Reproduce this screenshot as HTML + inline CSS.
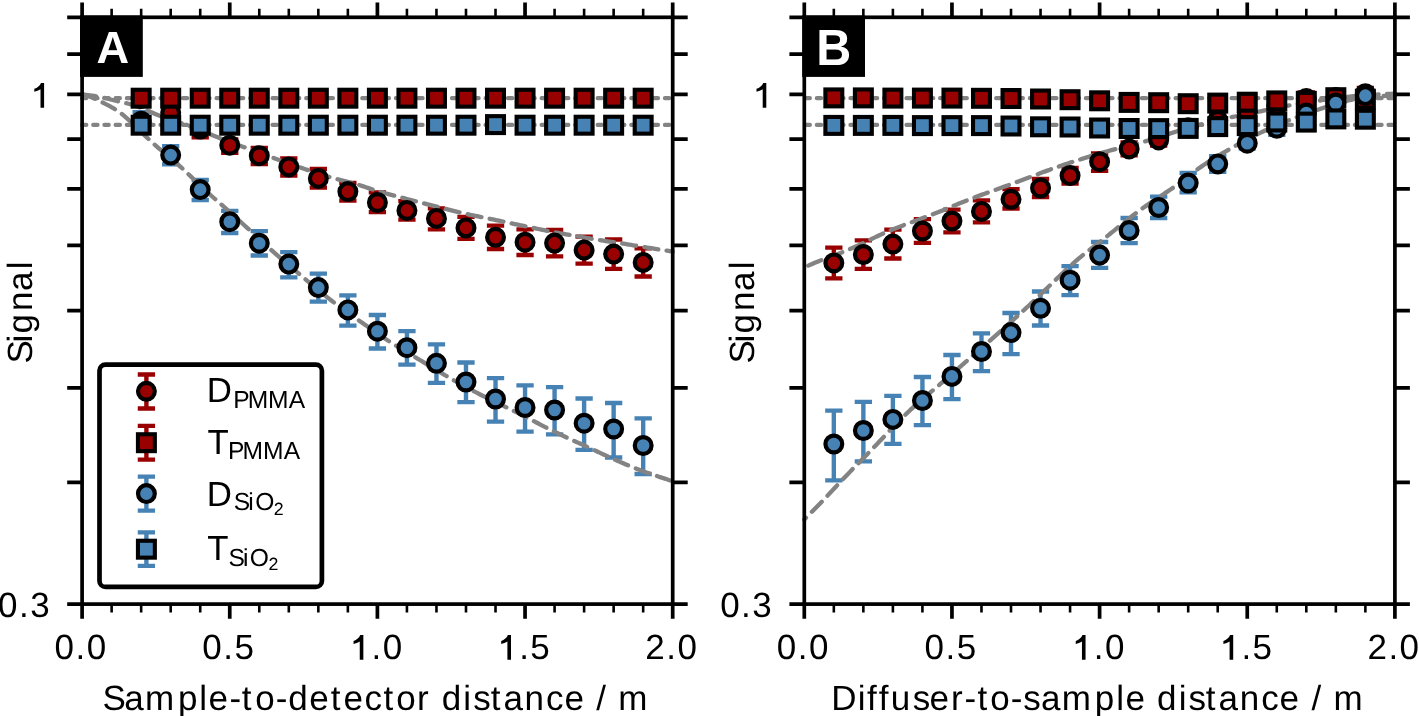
<!DOCTYPE html>
<html><head><meta charset="utf-8"><title>Signal vs distance</title>
<style>html,body{margin:0;padding:0;background:#fff;} svg{display:block;will-change:transform;text-rendering:geometricPrecision;}</style>
</head><body>
<svg width="1419" height="716" viewBox="0 0 1419 716" font-family='"Liberation Sans", sans-serif'>
<rect width="1419" height="716" fill="#fff"/>
<path d="M141.16,93.00V104.00" stroke="#990000" stroke-width="4.4" fill="none"/>
<path d="M132.51,93.00h17.3M132.51,104.00h17.3" stroke="#990000" stroke-width="4.3" fill="none"/>
<path d="M170.69,107.00V119.00" stroke="#990000" stroke-width="4.4" fill="none"/>
<path d="M162.04,107.00h17.3M162.04,119.00h17.3" stroke="#990000" stroke-width="4.3" fill="none"/>
<path d="M200.22,121.00V137.30" stroke="#990000" stroke-width="4.4" fill="none"/>
<path d="M191.57,121.00h17.3M191.57,137.30h17.3" stroke="#990000" stroke-width="4.3" fill="none"/>
<path d="M229.75,139.40V152.80" stroke="#990000" stroke-width="4.4" fill="none"/>
<path d="M221.10,139.40h17.3M221.10,152.80h17.3" stroke="#990000" stroke-width="4.3" fill="none"/>
<path d="M259.28,148.00V164.00" stroke="#990000" stroke-width="4.4" fill="none"/>
<path d="M250.63,148.00h17.3M250.63,164.00h17.3" stroke="#990000" stroke-width="4.3" fill="none"/>
<path d="M288.81,158.30V175.50" stroke="#990000" stroke-width="4.4" fill="none"/>
<path d="M280.16,158.30h17.3M280.16,175.50h17.3" stroke="#990000" stroke-width="4.3" fill="none"/>
<path d="M318.34,169.00V187.70" stroke="#990000" stroke-width="4.4" fill="none"/>
<path d="M309.69,169.00h17.3M309.69,187.70h17.3" stroke="#990000" stroke-width="4.3" fill="none"/>
<path d="M347.87,182.90V200.60" stroke="#990000" stroke-width="4.4" fill="none"/>
<path d="M339.22,182.90h17.3M339.22,200.60h17.3" stroke="#990000" stroke-width="4.3" fill="none"/>
<path d="M377.40,192.30V212.20" stroke="#990000" stroke-width="4.4" fill="none"/>
<path d="M368.75,192.30h17.3M368.75,212.20h17.3" stroke="#990000" stroke-width="4.3" fill="none"/>
<path d="M406.93,201.10V219.70" stroke="#990000" stroke-width="4.4" fill="none"/>
<path d="M398.28,201.10h17.3M398.28,219.70h17.3" stroke="#990000" stroke-width="4.3" fill="none"/>
<path d="M436.46,208.30V229.40" stroke="#990000" stroke-width="4.4" fill="none"/>
<path d="M427.81,208.30h17.3M427.81,229.40h17.3" stroke="#990000" stroke-width="4.3" fill="none"/>
<path d="M465.99,216.90V238.90" stroke="#990000" stroke-width="4.4" fill="none"/>
<path d="M457.34,216.90h17.3M457.34,238.90h17.3" stroke="#990000" stroke-width="4.3" fill="none"/>
<path d="M495.52,225.70V249.00" stroke="#990000" stroke-width="4.4" fill="none"/>
<path d="M486.87,225.70h17.3M486.87,249.00h17.3" stroke="#990000" stroke-width="4.3" fill="none"/>
<path d="M525.05,229.40V255.00" stroke="#990000" stroke-width="4.4" fill="none"/>
<path d="M516.40,229.40h17.3M516.40,255.00h17.3" stroke="#990000" stroke-width="4.3" fill="none"/>
<path d="M554.58,230.00V256.30" stroke="#990000" stroke-width="4.4" fill="none"/>
<path d="M545.93,230.00h17.3M545.93,256.30h17.3" stroke="#990000" stroke-width="4.3" fill="none"/>
<path d="M584.11,236.70V263.70" stroke="#990000" stroke-width="4.4" fill="none"/>
<path d="M575.46,236.70h17.3M575.46,263.70h17.3" stroke="#990000" stroke-width="4.3" fill="none"/>
<path d="M613.64,239.50V268.80" stroke="#990000" stroke-width="4.4" fill="none"/>
<path d="M604.99,239.50h17.3M604.99,268.80h17.3" stroke="#990000" stroke-width="4.3" fill="none"/>
<path d="M643.17,248.30V276.50" stroke="#990000" stroke-width="4.4" fill="none"/>
<path d="M634.52,248.30h17.3M634.52,276.50h17.3" stroke="#990000" stroke-width="4.3" fill="none"/>
<path d="M141.16,112.20V130.50" stroke="#4682b4" stroke-width="4.4" fill="none"/>
<path d="M132.51,112.20h17.3M132.51,130.50h17.3" stroke="#4682b4" stroke-width="4.3" fill="none"/>
<path d="M170.69,146.20V164.40" stroke="#4682b4" stroke-width="4.4" fill="none"/>
<path d="M162.04,146.20h17.3M162.04,164.40h17.3" stroke="#4682b4" stroke-width="4.3" fill="none"/>
<path d="M200.22,180.00V200.00" stroke="#4682b4" stroke-width="4.4" fill="none"/>
<path d="M191.57,180.00h17.3M191.57,200.00h17.3" stroke="#4682b4" stroke-width="4.3" fill="none"/>
<path d="M229.75,210.80V233.00" stroke="#4682b4" stroke-width="4.4" fill="none"/>
<path d="M221.10,210.80h17.3M221.10,233.00h17.3" stroke="#4682b4" stroke-width="4.3" fill="none"/>
<path d="M259.28,231.20V255.50" stroke="#4682b4" stroke-width="4.4" fill="none"/>
<path d="M250.63,231.20h17.3M250.63,255.50h17.3" stroke="#4682b4" stroke-width="4.3" fill="none"/>
<path d="M288.81,252.10V277.30" stroke="#4682b4" stroke-width="4.4" fill="none"/>
<path d="M280.16,252.10h17.3M280.16,277.30h17.3" stroke="#4682b4" stroke-width="4.3" fill="none"/>
<path d="M318.34,273.60V301.60" stroke="#4682b4" stroke-width="4.4" fill="none"/>
<path d="M309.69,273.60h17.3M309.69,301.60h17.3" stroke="#4682b4" stroke-width="4.3" fill="none"/>
<path d="M347.87,295.40V325.60" stroke="#4682b4" stroke-width="4.4" fill="none"/>
<path d="M339.22,295.40h17.3M339.22,325.60h17.3" stroke="#4682b4" stroke-width="4.3" fill="none"/>
<path d="M377.40,315.00V348.50" stroke="#4682b4" stroke-width="4.4" fill="none"/>
<path d="M368.75,315.00h17.3M368.75,348.50h17.3" stroke="#4682b4" stroke-width="4.3" fill="none"/>
<path d="M406.93,331.20V364.70" stroke="#4682b4" stroke-width="4.4" fill="none"/>
<path d="M398.28,331.20h17.3M398.28,364.70h17.3" stroke="#4682b4" stroke-width="4.3" fill="none"/>
<path d="M436.46,344.30V382.80" stroke="#4682b4" stroke-width="4.4" fill="none"/>
<path d="M427.81,344.30h17.3M427.81,382.80h17.3" stroke="#4682b4" stroke-width="4.3" fill="none"/>
<path d="M465.99,362.50V402.10" stroke="#4682b4" stroke-width="4.4" fill="none"/>
<path d="M457.34,362.50h17.3M457.34,402.10h17.3" stroke="#4682b4" stroke-width="4.3" fill="none"/>
<path d="M495.52,378.10V421.70" stroke="#4682b4" stroke-width="4.4" fill="none"/>
<path d="M486.87,378.10h17.3M486.87,421.70h17.3" stroke="#4682b4" stroke-width="4.3" fill="none"/>
<path d="M525.05,385.40V431.70" stroke="#4682b4" stroke-width="4.4" fill="none"/>
<path d="M516.40,385.40h17.3M516.40,431.70h17.3" stroke="#4682b4" stroke-width="4.3" fill="none"/>
<path d="M554.58,387.20V434.40" stroke="#4682b4" stroke-width="4.4" fill="none"/>
<path d="M545.93,387.20h17.3M545.93,434.40h17.3" stroke="#4682b4" stroke-width="4.3" fill="none"/>
<path d="M584.11,398.50V449.80" stroke="#4682b4" stroke-width="4.4" fill="none"/>
<path d="M575.46,398.50h17.3M575.46,449.80h17.3" stroke="#4682b4" stroke-width="4.3" fill="none"/>
<path d="M613.64,403.00V457.50" stroke="#4682b4" stroke-width="4.4" fill="none"/>
<path d="M604.99,403.00h17.3M604.99,457.50h17.3" stroke="#4682b4" stroke-width="4.3" fill="none"/>
<path d="M643.17,418.40V474.00" stroke="#4682b4" stroke-width="4.4" fill="none"/>
<path d="M634.52,418.40h17.3M634.52,474.00h17.3" stroke="#4682b4" stroke-width="4.3" fill="none"/>
<path d="M82.00,98.2 H672.70" stroke="#838383" stroke-width="4.2" stroke-dasharray="4.3 6.91" stroke-linecap="round" fill="none"/>
<path d="M82.00,124.9 H672.70" stroke="#838383" stroke-width="4.2" stroke-dasharray="4.3 6.91" stroke-linecap="round" fill="none"/>
<path d="M82.10,94.38 L84.08,94.62 L86.05,94.85 L88.03,95.10 L90.00,95.36 L91.98,95.63 L93.95,95.92 L95.93,96.24 L97.90,96.58 L99.88,96.96 L101.85,97.37 L103.83,97.81 L105.80,98.27 L107.78,98.76 L109.75,99.26 L111.73,99.76 L113.70,100.26 L115.68,100.76 L117.65,101.24 L119.63,101.71 L121.61,102.15 L123.58,102.58 L125.56,103.02 L127.53,103.50 L129.51,104.02 L131.48,104.59 L133.46,105.21 L135.43,105.86 L137.41,106.55 L139.38,107.27 L141.36,108.03 L143.33,108.82 L145.31,109.63 L147.28,110.47 L149.26,111.32 L151.23,112.19 L153.21,113.05 L155.18,113.91 L157.16,114.75 L159.13,115.56 L161.11,116.34 L163.09,117.09 L165.06,117.81 L167.04,118.51 L169.01,119.18 L170.99,119.84 L172.96,120.49 L174.94,121.13 L176.91,121.77 L178.89,122.42 L180.86,123.07 L182.84,123.74 L184.81,124.42 L186.79,125.11 L188.76,125.82 L190.74,126.54 L192.71,127.27 L194.69,128.01 L196.66,128.76 L198.64,129.53 L200.62,130.30 L202.59,131.09 L204.57,131.88 L206.54,132.69 L208.52,133.50 L210.49,134.33 L212.47,135.16 L214.44,135.99 L216.42,136.81 L218.39,137.61 L220.37,138.41 L222.34,139.18 L224.32,139.94 L226.29,140.70 L228.27,141.44 L230.24,142.17 L232.22,142.90 L234.19,143.62 L236.17,144.33 L238.14,145.05 L240.12,145.76 L242.10,146.47 L244.07,147.19 L246.05,147.91 L248.02,148.63 L250.00,149.35 L251.97,150.08 L253.95,150.81 L255.92,151.55 L257.90,152.28 L259.87,153.01 L261.85,153.75 L263.82,154.48 L265.80,155.21 L267.77,155.94 L269.75,156.66 L271.72,157.39 L273.70,158.11 L275.67,158.82 L277.65,159.53 L279.63,160.24 L281.60,160.94 L283.58,161.64 L285.55,162.34 L287.53,163.04 L289.50,163.73 L291.48,164.42 L293.45,165.11 L295.43,165.80 L297.40,166.48 L299.38,167.17 L301.35,167.85 L303.33,168.53 L305.30,169.21 L307.28,169.89 L309.25,170.56 L311.23,171.22 L313.20,171.88 L315.18,172.54 L317.15,173.18 L319.13,173.82 L321.11,174.45 L323.08,175.07 L325.06,175.68 L327.03,176.27 L329.01,176.86 L330.98,177.43 L332.96,177.99 L334.93,178.53 L336.91,179.06 L338.88,179.58 L340.86,180.08 L342.83,180.58 L344.81,181.07 L346.78,181.57 L348.76,182.07 L350.73,182.59 L352.71,183.12 L354.68,183.67 L356.66,184.24 L358.64,184.84 L360.61,185.47 L362.59,186.12 L364.56,186.79 L366.54,187.46 L368.51,188.13 L370.49,188.80 L372.46,189.46 L374.44,190.09 L376.41,190.71 L378.39,191.30 L380.36,191.88 L382.34,192.44 L384.31,192.99 L386.29,193.53 L388.26,194.06 L390.24,194.58 L392.21,195.10 L394.19,195.62 L396.16,196.13 L398.14,196.64 L400.12,197.16 L402.09,197.68 L404.07,198.19 L406.04,198.71 L408.02,199.23 L409.99,199.74 L411.97,200.26 L413.94,200.78 L415.92,201.29 L417.89,201.81 L419.87,202.32 L421.84,202.83 L423.82,203.34 L425.79,203.85 L427.77,204.36 L429.74,204.87 L431.72,205.38 L433.69,205.88 L435.67,206.39 L437.65,206.89 L439.62,207.39 L441.60,207.89 L443.57,208.39 L445.55,208.89 L447.52,209.39 L449.50,209.89 L451.47,210.38 L453.45,210.87 L455.42,211.35 L457.40,211.83 L459.37,212.30 L461.35,212.77 L463.32,213.23 L465.30,213.68 L467.27,214.12 L469.25,214.56 L471.22,214.98 L473.20,215.40 L475.17,215.82 L477.15,216.23 L479.13,216.63 L481.10,217.04 L483.08,217.44 L485.05,217.84 L487.03,218.25 L489.00,218.65 L490.98,219.06 L492.95,219.47 L494.93,219.88 L496.90,220.29 L498.88,220.71 L500.85,221.12 L502.83,221.53 L504.80,221.95 L506.78,222.36 L508.75,222.78 L510.73,223.19 L512.70,223.61 L514.68,224.02 L516.66,224.43 L518.63,224.85 L520.61,225.26 L522.58,225.67 L524.56,226.08 L526.53,226.50 L528.51,226.91 L530.48,227.33 L532.46,227.74 L534.43,228.16 L536.41,228.58 L538.38,228.99 L540.36,229.40 L542.33,229.82 L544.31,230.22 L546.28,230.63 L548.26,231.03 L550.23,231.42 L552.21,231.81 L554.18,232.19 L556.16,232.56 L558.14,232.92 L560.11,233.28 L562.09,233.63 L564.06,233.98 L566.04,234.33 L568.01,234.67 L569.99,235.01 L571.96,235.36 L573.94,235.70 L575.91,236.04 L577.89,236.39 L579.86,236.74 L581.84,237.09 L583.81,237.43 L585.79,237.78 L587.76,238.12 L589.74,238.47 L591.71,238.80 L593.69,239.14 L595.67,239.46 L597.64,239.78 L599.62,240.10 L601.59,240.40 L603.57,240.70 L605.54,241.00 L607.52,241.29 L609.49,241.59 L611.47,241.88 L613.44,242.17 L615.42,242.46 L617.39,242.76 L619.37,243.06 L621.34,243.36 L623.32,243.67 L625.29,243.98 L627.27,244.29 L629.24,244.61 L631.22,244.93 L633.19,245.26 L635.17,245.58 L637.15,245.90 L639.12,246.23 L641.10,246.55 L643.07,246.87 L645.05,247.20 L647.02,247.52 L649.00,247.83 L650.97,248.15 L652.95,248.47 L654.92,248.78 L656.90,249.10 L658.87,249.41 L660.85,249.73 L662.82,250.04 L664.80,250.35 L666.77,250.67 L668.75,250.98 L670.72,251.29 L672.70,251.60" stroke="#838383" stroke-width="4.3" stroke-dasharray="14.1 8.37" stroke-dashoffset="22.38" stroke-linecap="round" fill="none"/>
<path d="M82.10,94.32 L84.08,94.84 L86.05,95.39 L88.03,95.98 L90.00,96.63 L91.98,97.36 L93.95,98.19 L95.93,99.11 L97.90,100.07 L99.88,101.08 L101.85,102.09 L103.83,103.10 L105.80,104.11 L107.78,105.14 L109.75,106.20 L111.73,107.29 L113.70,108.43 L115.68,109.64 L117.65,110.91 L119.63,112.28 L121.61,113.76 L123.58,115.37 L125.56,117.09 L127.53,118.89 L129.51,120.74 L131.48,122.62 L133.46,124.52 L135.43,126.44 L137.41,128.36 L139.38,130.28 L141.36,132.20 L143.33,134.11 L145.31,136.00 L147.28,137.87 L149.26,139.72 L151.23,141.54 L153.21,143.33 L155.18,145.09 L157.16,146.82 L159.13,148.52 L161.11,150.20 L163.09,151.87 L165.06,153.53 L167.04,155.18 L169.01,156.84 L170.99,158.50 L172.96,160.17 L174.94,161.86 L176.91,163.58 L178.89,165.32 L180.86,167.09 L182.84,168.91 L184.81,170.75 L186.79,172.62 L188.76,174.51 L190.74,176.41 L192.71,178.31 L194.69,180.22 L196.66,182.12 L198.64,184.01 L200.62,185.88 L202.59,187.74 L204.57,189.59 L206.54,191.41 L208.52,193.22 L210.49,195.00 L212.47,196.76 L214.44,198.51 L216.42,200.25 L218.39,201.98 L220.37,203.72 L222.34,205.46 L224.32,207.21 L226.29,208.97 L228.27,210.75 L230.24,212.53 L232.22,214.31 L234.19,216.09 L236.17,217.88 L238.14,219.66 L240.12,221.45 L242.10,223.23 L244.07,225.01 L246.05,226.80 L248.02,228.59 L250.00,230.40 L251.97,232.22 L253.95,234.04 L255.92,235.87 L257.90,237.71 L259.87,239.54 L261.85,241.37 L263.82,243.20 L265.80,245.02 L267.77,246.84 L269.75,248.63 L271.72,250.42 L273.70,252.18 L275.67,253.93 L277.65,255.66 L279.63,257.38 L281.60,259.08 L283.58,260.78 L285.55,262.47 L287.53,264.14 L289.50,265.82 L291.48,267.48 L293.45,269.15 L295.43,270.81 L297.40,272.48 L299.38,274.14 L301.35,275.81 L303.33,277.48 L305.30,279.15 L307.28,280.82 L309.25,282.48 L311.23,284.14 L313.20,285.80 L315.18,287.45 L317.15,289.09 L319.13,290.72 L321.11,292.34 L323.08,293.94 L325.06,295.53 L327.03,297.10 L329.01,298.66 L330.98,300.19 L332.96,301.71 L334.93,303.20 L336.91,304.68 L338.88,306.15 L340.86,307.60 L342.83,309.04 L344.81,310.46 L346.78,311.88 L348.76,313.29 L350.73,314.69 L352.71,316.09 L354.68,317.48 L356.66,318.88 L358.64,320.27 L360.61,321.67 L362.59,323.06 L364.56,324.46 L366.54,325.85 L368.51,327.24 L370.49,328.63 L372.46,330.01 L374.44,331.38 L376.41,332.75 L378.39,334.11 L380.36,335.46 L382.34,336.80 L384.31,338.12 L386.29,339.43 L388.26,340.73 L390.24,342.01 L392.21,343.27 L394.19,344.52 L396.16,345.75 L398.14,346.97 L400.12,348.18 L402.09,349.38 L404.07,350.57 L406.04,351.75 L408.02,352.93 L409.99,354.11 L411.97,355.28 L413.94,356.46 L415.92,357.63 L417.89,358.81 L419.87,359.99 L421.84,361.18 L423.82,362.37 L425.79,363.57 L427.77,364.77 L429.74,365.97 L431.72,367.17 L433.69,368.37 L435.67,369.57 L437.65,370.77 L439.62,371.97 L441.60,373.15 L443.57,374.34 L445.55,375.51 L447.52,376.68 L449.50,377.83 L451.47,378.98 L453.45,380.12 L455.42,381.24 L457.40,382.35 L459.37,383.46 L461.35,384.55 L463.32,385.64 L465.30,386.71 L467.27,387.77 L469.25,388.83 L471.22,389.87 L473.20,390.91 L475.17,391.94 L477.15,392.95 L479.13,393.96 L481.10,394.96 L483.08,395.96 L485.05,396.94 L487.03,397.92 L489.00,398.90 L490.98,399.87 L492.95,400.83 L494.93,401.79 L496.90,402.75 L498.88,403.71 L500.85,404.67 L502.83,405.62 L504.80,406.58 L506.78,407.54 L508.75,408.50 L510.73,409.46 L512.70,410.43 L514.68,411.40 L516.66,412.37 L518.63,413.35 L520.61,414.34 L522.58,415.33 L524.56,416.34 L526.53,417.35 L528.51,418.37 L530.48,419.39 L532.46,420.42 L534.43,421.45 L536.41,422.48 L538.38,423.51 L540.36,424.54 L542.33,425.57 L544.31,426.59 L546.28,427.61 L548.26,428.62 L550.23,429.62 L552.21,430.61 L554.18,431.58 L556.16,432.55 L558.14,433.50 L560.11,434.44 L562.09,435.37 L564.06,436.29 L566.04,437.21 L568.01,438.12 L569.99,439.02 L571.96,439.92 L573.94,440.82 L575.91,441.71 L577.89,442.61 L579.86,443.51 L581.84,444.41 L583.81,445.31 L585.79,446.22 L587.76,447.14 L589.74,448.06 L591.71,448.98 L593.69,449.90 L595.67,450.82 L597.64,451.74 L599.62,452.67 L601.59,453.59 L603.57,454.50 L605.54,455.42 L607.52,456.33 L609.49,457.23 L611.47,458.13 L613.44,459.02 L615.42,459.90 L617.39,460.77 L619.37,461.64 L621.34,462.49 L623.32,463.34 L625.29,464.18 L627.27,465.00 L629.24,465.82 L631.22,466.63 L633.19,467.42 L635.17,468.21 L637.15,468.98 L639.12,469.74 L641.10,470.49 L643.07,471.22 L645.05,471.94 L647.02,472.66 L649.00,473.36 L650.97,474.05 L652.95,474.73 L654.92,475.40 L656.90,476.06 L658.87,476.72 L660.85,477.37 L662.82,478.02 L664.80,478.66 L666.77,479.30 L668.75,479.94 L670.72,480.57 L672.70,481.20" stroke="#838383" stroke-width="4.3" stroke-dasharray="14.1 8.37" stroke-dashoffset="0.32" stroke-linecap="round" fill="none"/>
<circle cx="141.16" cy="98.40" r="8.4" fill="#990000" stroke="#000" stroke-width="4.2"/>
<circle cx="170.69" cy="112.80" r="8.4" fill="#990000" stroke="#000" stroke-width="4.2"/>
<circle cx="200.22" cy="129.00" r="8.4" fill="#990000" stroke="#000" stroke-width="4.2"/>
<circle cx="229.75" cy="145.20" r="8.4" fill="#990000" stroke="#000" stroke-width="4.2"/>
<circle cx="259.28" cy="155.70" r="8.4" fill="#990000" stroke="#000" stroke-width="4.2"/>
<circle cx="288.81" cy="166.90" r="8.4" fill="#990000" stroke="#000" stroke-width="4.2"/>
<circle cx="318.34" cy="178.40" r="8.4" fill="#990000" stroke="#000" stroke-width="4.2"/>
<circle cx="347.87" cy="191.60" r="8.4" fill="#990000" stroke="#000" stroke-width="4.2"/>
<circle cx="377.40" cy="202.50" r="8.4" fill="#990000" stroke="#000" stroke-width="4.2"/>
<circle cx="406.93" cy="210.40" r="8.4" fill="#990000" stroke="#000" stroke-width="4.2"/>
<circle cx="436.46" cy="218.40" r="8.4" fill="#990000" stroke="#000" stroke-width="4.2"/>
<circle cx="465.99" cy="227.90" r="8.4" fill="#990000" stroke="#000" stroke-width="4.2"/>
<circle cx="495.52" cy="237.30" r="8.4" fill="#990000" stroke="#000" stroke-width="4.2"/>
<circle cx="525.05" cy="242.20" r="8.4" fill="#990000" stroke="#000" stroke-width="4.2"/>
<circle cx="554.58" cy="243.10" r="8.4" fill="#990000" stroke="#000" stroke-width="4.2"/>
<circle cx="584.11" cy="250.10" r="8.4" fill="#990000" stroke="#000" stroke-width="4.2"/>
<circle cx="613.64" cy="254.10" r="8.4" fill="#990000" stroke="#000" stroke-width="4.2"/>
<circle cx="643.17" cy="262.40" r="8.4" fill="#990000" stroke="#000" stroke-width="4.2"/>
<rect x="132.71" y="89.75" width="16.9" height="16.9" fill="#990000" stroke="#000" stroke-width="4.1"/>
<rect x="162.24" y="89.75" width="16.9" height="16.9" fill="#990000" stroke="#000" stroke-width="4.1"/>
<rect x="191.77" y="89.75" width="16.9" height="16.9" fill="#990000" stroke="#000" stroke-width="4.1"/>
<rect x="221.30" y="89.75" width="16.9" height="16.9" fill="#990000" stroke="#000" stroke-width="4.1"/>
<rect x="250.83" y="89.75" width="16.9" height="16.9" fill="#990000" stroke="#000" stroke-width="4.1"/>
<rect x="280.36" y="89.75" width="16.9" height="16.9" fill="#990000" stroke="#000" stroke-width="4.1"/>
<rect x="309.89" y="89.75" width="16.9" height="16.9" fill="#990000" stroke="#000" stroke-width="4.1"/>
<rect x="339.42" y="89.75" width="16.9" height="16.9" fill="#990000" stroke="#000" stroke-width="4.1"/>
<rect x="368.95" y="89.75" width="16.9" height="16.9" fill="#990000" stroke="#000" stroke-width="4.1"/>
<rect x="398.48" y="89.75" width="16.9" height="16.9" fill="#990000" stroke="#000" stroke-width="4.1"/>
<rect x="428.01" y="89.75" width="16.9" height="16.9" fill="#990000" stroke="#000" stroke-width="4.1"/>
<rect x="457.54" y="89.75" width="16.9" height="16.9" fill="#990000" stroke="#000" stroke-width="4.1"/>
<rect x="487.07" y="89.75" width="16.9" height="16.9" fill="#990000" stroke="#000" stroke-width="4.1"/>
<rect x="516.60" y="89.75" width="16.9" height="16.9" fill="#990000" stroke="#000" stroke-width="4.1"/>
<rect x="546.13" y="89.75" width="16.9" height="16.9" fill="#990000" stroke="#000" stroke-width="4.1"/>
<rect x="575.66" y="89.75" width="16.9" height="16.9" fill="#990000" stroke="#000" stroke-width="4.1"/>
<rect x="605.19" y="89.75" width="16.9" height="16.9" fill="#990000" stroke="#000" stroke-width="4.1"/>
<rect x="634.72" y="89.75" width="16.9" height="16.9" fill="#990000" stroke="#000" stroke-width="4.1"/>
<circle cx="141.16" cy="121.20" r="8.4" fill="#4682b4" stroke="#000" stroke-width="4.2"/>
<circle cx="170.69" cy="155.10" r="8.4" fill="#4682b4" stroke="#000" stroke-width="4.2"/>
<circle cx="200.22" cy="189.60" r="8.4" fill="#4682b4" stroke="#000" stroke-width="4.2"/>
<circle cx="229.75" cy="221.70" r="8.4" fill="#4682b4" stroke="#000" stroke-width="4.2"/>
<circle cx="259.28" cy="243.20" r="8.4" fill="#4682b4" stroke="#000" stroke-width="4.2"/>
<circle cx="288.81" cy="264.10" r="8.4" fill="#4682b4" stroke="#000" stroke-width="4.2"/>
<circle cx="318.34" cy="287.60" r="8.4" fill="#4682b4" stroke="#000" stroke-width="4.2"/>
<circle cx="347.87" cy="309.90" r="8.4" fill="#4682b4" stroke="#000" stroke-width="4.2"/>
<circle cx="377.40" cy="331.20" r="8.4" fill="#4682b4" stroke="#000" stroke-width="4.2"/>
<circle cx="406.93" cy="347.70" r="8.4" fill="#4682b4" stroke="#000" stroke-width="4.2"/>
<circle cx="436.46" cy="363.30" r="8.4" fill="#4682b4" stroke="#000" stroke-width="4.2"/>
<circle cx="465.99" cy="382.00" r="8.4" fill="#4682b4" stroke="#000" stroke-width="4.2"/>
<circle cx="495.52" cy="399.00" r="8.4" fill="#4682b4" stroke="#000" stroke-width="4.2"/>
<circle cx="525.05" cy="407.50" r="8.4" fill="#4682b4" stroke="#000" stroke-width="4.2"/>
<circle cx="554.58" cy="410.00" r="8.4" fill="#4682b4" stroke="#000" stroke-width="4.2"/>
<circle cx="584.11" cy="423.20" r="8.4" fill="#4682b4" stroke="#000" stroke-width="4.2"/>
<circle cx="613.64" cy="429.00" r="8.4" fill="#4682b4" stroke="#000" stroke-width="4.2"/>
<circle cx="643.17" cy="445.50" r="8.4" fill="#4682b4" stroke="#000" stroke-width="4.2"/>
<rect x="132.71" y="116.75" width="16.9" height="16.9" fill="#4682b4" stroke="#000" stroke-width="4.1"/>
<rect x="162.24" y="116.75" width="16.9" height="16.9" fill="#4682b4" stroke="#000" stroke-width="4.1"/>
<rect x="191.77" y="116.75" width="16.9" height="16.9" fill="#4682b4" stroke="#000" stroke-width="4.1"/>
<rect x="221.30" y="116.75" width="16.9" height="16.9" fill="#4682b4" stroke="#000" stroke-width="4.1"/>
<rect x="250.83" y="116.75" width="16.9" height="16.9" fill="#4682b4" stroke="#000" stroke-width="4.1"/>
<rect x="280.36" y="116.75" width="16.9" height="16.9" fill="#4682b4" stroke="#000" stroke-width="4.1"/>
<rect x="309.89" y="116.75" width="16.9" height="16.9" fill="#4682b4" stroke="#000" stroke-width="4.1"/>
<rect x="339.42" y="116.75" width="16.9" height="16.9" fill="#4682b4" stroke="#000" stroke-width="4.1"/>
<rect x="368.95" y="116.75" width="16.9" height="16.9" fill="#4682b4" stroke="#000" stroke-width="4.1"/>
<rect x="398.48" y="116.75" width="16.9" height="16.9" fill="#4682b4" stroke="#000" stroke-width="4.1"/>
<rect x="428.01" y="116.75" width="16.9" height="16.9" fill="#4682b4" stroke="#000" stroke-width="4.1"/>
<rect x="457.54" y="116.75" width="16.9" height="16.9" fill="#4682b4" stroke="#000" stroke-width="4.1"/>
<rect x="487.07" y="116.15" width="16.9" height="16.9" fill="#4682b4" stroke="#000" stroke-width="4.1"/>
<rect x="516.60" y="116.75" width="16.9" height="16.9" fill="#4682b4" stroke="#000" stroke-width="4.1"/>
<rect x="546.13" y="116.75" width="16.9" height="16.9" fill="#4682b4" stroke="#000" stroke-width="4.1"/>
<rect x="575.66" y="116.75" width="16.9" height="16.9" fill="#4682b4" stroke="#000" stroke-width="4.1"/>
<rect x="605.19" y="116.75" width="16.9" height="16.9" fill="#4682b4" stroke="#000" stroke-width="4.1"/>
<rect x="634.72" y="116.75" width="16.9" height="16.9" fill="#4682b4" stroke="#000" stroke-width="4.1"/>
<rect x="82.1" y="17.3" width="590.60" height="586.80" fill="none" stroke="#000" stroke-width="3.7"/>
<path d="M82.10,2.50V17.3M82.10,604.1V618.70" stroke="#000" stroke-width="3.7"/>
<path d="M111.63,8.80V17.3M111.63,604.1V612.40" stroke="#000" stroke-width="2.6"/>
<path d="M141.16,8.80V17.3M141.16,604.1V612.40" stroke="#000" stroke-width="2.6"/>
<path d="M170.69,8.80V17.3M170.69,604.1V612.40" stroke="#000" stroke-width="2.6"/>
<path d="M200.22,8.80V17.3M200.22,604.1V612.40" stroke="#000" stroke-width="2.6"/>
<path d="M229.75,2.50V17.3M229.75,604.1V618.70" stroke="#000" stroke-width="3.7"/>
<path d="M259.28,8.80V17.3M259.28,604.1V612.40" stroke="#000" stroke-width="2.6"/>
<path d="M288.81,8.80V17.3M288.81,604.1V612.40" stroke="#000" stroke-width="2.6"/>
<path d="M318.34,8.80V17.3M318.34,604.1V612.40" stroke="#000" stroke-width="2.6"/>
<path d="M347.87,8.80V17.3M347.87,604.1V612.40" stroke="#000" stroke-width="2.6"/>
<path d="M377.40,2.50V17.3M377.40,604.1V618.70" stroke="#000" stroke-width="3.7"/>
<path d="M406.93,8.80V17.3M406.93,604.1V612.40" stroke="#000" stroke-width="2.6"/>
<path d="M436.46,8.80V17.3M436.46,604.1V612.40" stroke="#000" stroke-width="2.6"/>
<path d="M465.99,8.80V17.3M465.99,604.1V612.40" stroke="#000" stroke-width="2.6"/>
<path d="M495.52,8.80V17.3M495.52,604.1V612.40" stroke="#000" stroke-width="2.6"/>
<path d="M525.05,2.50V17.3M525.05,604.1V618.70" stroke="#000" stroke-width="3.7"/>
<path d="M554.58,8.80V17.3M554.58,604.1V612.40" stroke="#000" stroke-width="2.6"/>
<path d="M584.11,8.80V17.3M584.11,604.1V612.40" stroke="#000" stroke-width="2.6"/>
<path d="M613.64,8.80V17.3M613.64,604.1V612.40" stroke="#000" stroke-width="2.6"/>
<path d="M643.17,8.80V17.3M643.17,604.1V612.40" stroke="#000" stroke-width="2.6"/>
<path d="M672.70,2.50V17.3M672.70,604.1V618.70" stroke="#000" stroke-width="3.7"/>
<path d="M67.20,604.09H82.1M672.7,604.09H687.70" stroke="#000" stroke-width="3.7"/>
<path d="M67.20,482.32H82.1M672.7,482.32H687.70" stroke="#000" stroke-width="3.7"/>
<path d="M67.20,387.87H82.1M672.7,387.87H687.70" stroke="#000" stroke-width="3.7"/>
<path d="M67.20,310.69H82.1M672.7,310.69H687.70" stroke="#000" stroke-width="3.7"/>
<path d="M67.20,245.45H82.1M672.7,245.45H687.70" stroke="#000" stroke-width="3.7"/>
<path d="M67.20,188.92H82.1M672.7,188.92H687.70" stroke="#000" stroke-width="3.7"/>
<path d="M67.20,139.07H82.1M672.7,139.07H687.70" stroke="#000" stroke-width="3.7"/>
<path d="M67.20,94.47H82.1M672.7,94.47H687.70" stroke="#000" stroke-width="3.7"/>
<path d="M67.20,54.13H82.1M672.7,54.13H687.70" stroke="#000" stroke-width="3.7"/>
<path d="M67.20,17.30H82.1M672.7,17.30H687.70" stroke="#000" stroke-width="3.7"/>
<text x="81.20" y="659.10" font-size="35" text-anchor="middle" font-weight="normal" letter-spacing="1.5" fill="#000" >0.0</text>
<text x="228.85" y="659.10" font-size="35" text-anchor="middle" font-weight="normal" letter-spacing="1.5" fill="#000" >0.5</text>
<path d="M363.35,635.00 V659.80 H359.75 V641.40 C358.15,642.50 355.55,643.30 353.55,643.90 V640.90 C356.55,639.90 359.35,637.80 360.25,635.00 Z" fill="#000"/>
<text x="371.62 382.75" y="659.10" font-size="35" >.0</text>
<path d="M511.00,635.00 V659.80 H507.40 V641.40 C505.80,642.50 503.20,643.30 501.20,643.90 V640.90 C504.20,639.90 507.00,637.80 507.90,635.00 Z" fill="#000"/>
<text x="519.27 530.36" y="659.10" font-size="35" >.5</text>
<text x="671.80" y="659.10" font-size="35" text-anchor="middle" font-weight="normal" letter-spacing="1.5" fill="#000" >2.0</text>
<path d="M44.10,82.90 V107.70 H40.50 V89.30 C38.90,90.40 36.30,91.20 34.30,91.80 V88.80 C37.30,87.80 40.10,85.70 41.00,82.90 Z" fill="#000"/>
<text x="51.10" y="617.20" font-size="35" text-anchor="end" font-weight="normal" letter-spacing="1.5" fill="#000" >0.3</text>
<text transform="translate(32.20,0) rotate(-90)" x="-363.39 -342.44 -333.57 -311.12 -290.99 -269.36" y="0" font-size="35">Signal</text>
<text x="102.51 124.21 144.88 177.94 199.34 208.41 229.45 241.87 255.13 275.75 288.13 309.21 330.77 343.51 364.61 383.47 396.23 416.88 430.00 441.63 463.36 473.23 490.67 503.41 524.58 546.01 564.41 585.00 596.20 610.00 618.18" y="709.70" font-size="35" >Sample-to-detector distance / m</text>
<rect x="80.00" y="15.50" width="62.8" height="61.40" fill="#000"/>
<text x="112.75" y="62.60" font-size="45.2" text-anchor="middle" font-weight="bold" letter-spacing="0" fill="#fff" >A</text>
<path d="M833.83,247.60V278.40" stroke="#990000" stroke-width="4.4" fill="none"/>
<path d="M825.18,247.60h17.3M825.18,278.40h17.3" stroke="#990000" stroke-width="4.3" fill="none"/>
<path d="M863.36,240.30V268.80" stroke="#990000" stroke-width="4.4" fill="none"/>
<path d="M854.71,240.30h17.3M854.71,268.80h17.3" stroke="#990000" stroke-width="4.3" fill="none"/>
<path d="M892.89,229.70V258.50" stroke="#990000" stroke-width="4.4" fill="none"/>
<path d="M884.24,229.70h17.3M884.24,258.50h17.3" stroke="#990000" stroke-width="4.3" fill="none"/>
<path d="M922.42,219.20V242.80" stroke="#990000" stroke-width="4.4" fill="none"/>
<path d="M913.77,219.20h17.3M913.77,242.80h17.3" stroke="#990000" stroke-width="4.3" fill="none"/>
<path d="M951.95,209.70V232.30" stroke="#990000" stroke-width="4.4" fill="none"/>
<path d="M943.30,209.70h17.3M943.30,232.30h17.3" stroke="#990000" stroke-width="4.3" fill="none"/>
<path d="M981.48,200.40V222.30" stroke="#990000" stroke-width="4.4" fill="none"/>
<path d="M972.83,200.40h17.3M972.83,222.30h17.3" stroke="#990000" stroke-width="4.3" fill="none"/>
<path d="M1011.01,189.20V208.50" stroke="#990000" stroke-width="4.4" fill="none"/>
<path d="M1002.36,189.20h17.3M1002.36,208.50h17.3" stroke="#990000" stroke-width="4.3" fill="none"/>
<path d="M1040.54,179.00V197.00" stroke="#990000" stroke-width="4.4" fill="none"/>
<path d="M1031.89,179.00h17.3M1031.89,197.00h17.3" stroke="#990000" stroke-width="4.3" fill="none"/>
<path d="M1070.07,167.80V183.50" stroke="#990000" stroke-width="4.4" fill="none"/>
<path d="M1061.42,167.80h17.3M1061.42,183.50h17.3" stroke="#990000" stroke-width="4.3" fill="none"/>
<path d="M1099.60,153.50V170.80" stroke="#990000" stroke-width="4.4" fill="none"/>
<path d="M1090.95,153.50h17.3M1090.95,170.80h17.3" stroke="#990000" stroke-width="4.3" fill="none"/>
<path d="M1129.13,142.50V155.30" stroke="#990000" stroke-width="4.4" fill="none"/>
<path d="M1120.48,142.50h17.3M1120.48,155.30h17.3" stroke="#990000" stroke-width="4.3" fill="none"/>
<path d="M1158.66,133.50V145.50" stroke="#990000" stroke-width="4.4" fill="none"/>
<path d="M1150.01,133.50h17.3M1150.01,145.50h17.3" stroke="#990000" stroke-width="4.3" fill="none"/>
<path d="M1188.19,121.50V134.00" stroke="#990000" stroke-width="4.4" fill="none"/>
<path d="M1179.54,121.50h17.3M1179.54,134.00h17.3" stroke="#990000" stroke-width="4.3" fill="none"/>
<path d="M1217.72,113.00V127.60" stroke="#990000" stroke-width="4.4" fill="none"/>
<path d="M1209.07,113.00h17.3M1209.07,127.60h17.3" stroke="#990000" stroke-width="4.3" fill="none"/>
<path d="M1247.25,105.50V119.50" stroke="#990000" stroke-width="4.4" fill="none"/>
<path d="M1238.60,105.50h17.3M1238.60,119.50h17.3" stroke="#990000" stroke-width="4.3" fill="none"/>
<path d="M1276.78,99.00V112.00" stroke="#990000" stroke-width="4.4" fill="none"/>
<path d="M1268.13,99.00h17.3M1268.13,112.00h17.3" stroke="#990000" stroke-width="4.3" fill="none"/>
<path d="M1306.31,92.40V104.40" stroke="#990000" stroke-width="4.4" fill="none"/>
<path d="M1297.66,92.40h17.3M1297.66,104.40h17.3" stroke="#990000" stroke-width="4.3" fill="none"/>
<path d="M1335.84,91.50V103.50" stroke="#990000" stroke-width="4.4" fill="none"/>
<path d="M1327.19,91.50h17.3M1327.19,103.50h17.3" stroke="#990000" stroke-width="4.3" fill="none"/>
<path d="M1365.37,88.00V99.40" stroke="#990000" stroke-width="4.4" fill="none"/>
<path d="M1356.72,88.00h17.3M1356.72,99.40h17.3" stroke="#990000" stroke-width="4.3" fill="none"/>
<path d="M833.83,410.60V480.30" stroke="#4682b4" stroke-width="4.4" fill="none"/>
<path d="M825.18,410.60h17.3M825.18,480.30h17.3" stroke="#4682b4" stroke-width="4.3" fill="none"/>
<path d="M863.36,401.90V461.30" stroke="#4682b4" stroke-width="4.4" fill="none"/>
<path d="M854.71,401.90h17.3M854.71,461.30h17.3" stroke="#4682b4" stroke-width="4.3" fill="none"/>
<path d="M892.89,395.90V443.90" stroke="#4682b4" stroke-width="4.4" fill="none"/>
<path d="M884.24,395.90h17.3M884.24,443.90h17.3" stroke="#4682b4" stroke-width="4.3" fill="none"/>
<path d="M922.42,377.00V425.20" stroke="#4682b4" stroke-width="4.4" fill="none"/>
<path d="M913.77,377.00h17.3M913.77,425.20h17.3" stroke="#4682b4" stroke-width="4.3" fill="none"/>
<path d="M951.95,355.00V399.20" stroke="#4682b4" stroke-width="4.4" fill="none"/>
<path d="M943.30,355.00h17.3M943.30,399.20h17.3" stroke="#4682b4" stroke-width="4.3" fill="none"/>
<path d="M981.48,333.40V371.20" stroke="#4682b4" stroke-width="4.4" fill="none"/>
<path d="M972.83,333.40h17.3M972.83,371.20h17.3" stroke="#4682b4" stroke-width="4.3" fill="none"/>
<path d="M1011.01,313.00V354.10" stroke="#4682b4" stroke-width="4.4" fill="none"/>
<path d="M1002.36,313.00h17.3M1002.36,354.10h17.3" stroke="#4682b4" stroke-width="4.3" fill="none"/>
<path d="M1040.54,291.50V325.50" stroke="#4682b4" stroke-width="4.4" fill="none"/>
<path d="M1031.89,291.50h17.3M1031.89,325.50h17.3" stroke="#4682b4" stroke-width="4.3" fill="none"/>
<path d="M1070.07,266.10V295.10" stroke="#4682b4" stroke-width="4.4" fill="none"/>
<path d="M1061.42,266.10h17.3M1061.42,295.10h17.3" stroke="#4682b4" stroke-width="4.3" fill="none"/>
<path d="M1099.60,242.00V267.90" stroke="#4682b4" stroke-width="4.4" fill="none"/>
<path d="M1090.95,242.00h17.3M1090.95,267.90h17.3" stroke="#4682b4" stroke-width="4.3" fill="none"/>
<path d="M1129.13,218.00V243.10" stroke="#4682b4" stroke-width="4.4" fill="none"/>
<path d="M1120.48,218.00h17.3M1120.48,243.10h17.3" stroke="#4682b4" stroke-width="4.3" fill="none"/>
<path d="M1158.66,196.60V218.00" stroke="#4682b4" stroke-width="4.4" fill="none"/>
<path d="M1150.01,196.60h17.3M1150.01,218.00h17.3" stroke="#4682b4" stroke-width="4.3" fill="none"/>
<path d="M1188.19,172.90V192.40" stroke="#4682b4" stroke-width="4.4" fill="none"/>
<path d="M1179.54,172.90h17.3M1179.54,192.40h17.3" stroke="#4682b4" stroke-width="4.3" fill="none"/>
<path d="M1217.72,156.20V171.90" stroke="#4682b4" stroke-width="4.4" fill="none"/>
<path d="M1209.07,156.20h17.3M1209.07,171.90h17.3" stroke="#4682b4" stroke-width="4.3" fill="none"/>
<path d="M1247.25,137.00V148.30" stroke="#4682b4" stroke-width="4.4" fill="none"/>
<path d="M1238.60,137.00h17.3M1238.60,148.30h17.3" stroke="#4682b4" stroke-width="4.3" fill="none"/>
<path d="M1276.78,121.50V134.80" stroke="#4682b4" stroke-width="4.4" fill="none"/>
<path d="M1268.13,121.50h17.3M1268.13,134.80h17.3" stroke="#4682b4" stroke-width="4.3" fill="none"/>
<path d="M1306.31,107.00V119.00" stroke="#4682b4" stroke-width="4.4" fill="none"/>
<path d="M1297.66,107.00h17.3M1297.66,119.00h17.3" stroke="#4682b4" stroke-width="4.3" fill="none"/>
<path d="M1335.84,97.50V108.50" stroke="#4682b4" stroke-width="4.4" fill="none"/>
<path d="M1327.19,97.50h17.3M1327.19,108.50h17.3" stroke="#4682b4" stroke-width="4.3" fill="none"/>
<path d="M1365.37,90.50V100.70" stroke="#4682b4" stroke-width="4.4" fill="none"/>
<path d="M1356.72,90.50h17.3M1356.72,100.70h17.3" stroke="#4682b4" stroke-width="4.3" fill="none"/>
<path d="M805.60,98.2 H1394.90" stroke="#838383" stroke-width="4.2" stroke-dasharray="4.3 6.91" stroke-linecap="round" fill="none"/>
<path d="M805.60,124.9 H1394.90" stroke="#838383" stroke-width="4.2" stroke-dasharray="4.3 6.91" stroke-linecap="round" fill="none"/>
<path d="M804.30,267.39 L806.28,266.52 L808.25,265.66 L810.23,264.80 L812.20,263.94 L814.18,263.09 L816.15,262.26 L818.13,261.43 L820.10,260.62 L822.08,259.83 L824.05,259.05 L826.03,258.29 L828.00,257.55 L829.98,256.81 L831.95,256.08 L833.93,255.35 L835.90,254.63 L837.88,253.89 L839.85,253.15 L841.83,252.40 L843.81,251.63 L845.78,250.84 L847.76,250.03 L849.73,249.20 L851.71,248.34 L853.68,247.46 L855.66,246.57 L857.63,245.66 L859.61,244.73 L861.58,243.80 L863.56,242.86 L865.53,241.91 L867.51,240.95 L869.48,240.00 L871.46,239.04 L873.43,238.09 L875.41,237.15 L877.38,236.21 L879.36,235.28 L881.33,234.37 L883.31,233.46 L885.29,232.58 L887.26,231.72 L889.24,230.87 L891.21,230.05 L893.19,229.24 L895.16,228.44 L897.14,227.67 L899.11,226.90 L901.09,226.14 L903.06,225.39 L905.04,224.65 L907.01,223.92 L908.99,223.19 L910.96,222.45 L912.94,221.73 L914.91,221.00 L916.89,220.27 L918.86,219.53 L920.84,218.80 L922.82,218.06 L924.79,217.32 L926.77,216.58 L928.74,215.83 L930.72,215.08 L932.69,214.31 L934.67,213.55 L936.64,212.77 L938.62,211.99 L940.59,211.19 L942.57,210.39 L944.54,209.59 L946.52,208.77 L948.49,207.96 L950.47,207.14 L952.44,206.32 L954.42,205.50 L956.39,204.68 L958.37,203.86 L960.34,203.05 L962.32,202.24 L964.30,201.44 L966.27,200.65 L968.25,199.86 L970.22,199.08 L972.20,198.32 L974.17,197.56 L976.15,196.82 L978.12,196.08 L980.10,195.36 L982.07,194.64 L984.05,193.92 L986.02,193.21 L988.00,192.51 L989.97,191.80 L991.95,191.10 L993.92,190.40 L995.90,189.70 L997.87,188.99 L999.85,188.28 L1001.83,187.57 L1003.80,186.85 L1005.78,186.14 L1007.75,185.41 L1009.73,184.69 L1011.70,183.97 L1013.68,183.24 L1015.65,182.51 L1017.63,181.77 L1019.60,181.04 L1021.58,180.30 L1023.55,179.56 L1025.53,178.81 L1027.50,178.07 L1029.48,177.32 L1031.45,176.58 L1033.43,175.83 L1035.40,175.08 L1037.38,174.33 L1039.35,173.59 L1041.33,172.85 L1043.31,172.11 L1045.28,171.37 L1047.26,170.64 L1049.23,169.92 L1051.21,169.20 L1053.18,168.49 L1055.16,167.78 L1057.13,167.08 L1059.11,166.39 L1061.08,165.71 L1063.06,165.04 L1065.03,164.37 L1067.01,163.71 L1068.98,163.06 L1070.96,162.41 L1072.93,161.77 L1074.91,161.13 L1076.88,160.49 L1078.86,159.86 L1080.84,159.23 L1082.81,158.61 L1084.79,157.98 L1086.76,157.36 L1088.74,156.75 L1090.71,156.14 L1092.69,155.54 L1094.66,154.94 L1096.64,154.35 L1098.61,153.76 L1100.59,153.18 L1102.56,152.61 L1104.54,152.05 L1106.51,151.49 L1108.49,150.95 L1110.46,150.41 L1112.44,149.89 L1114.41,149.37 L1116.39,148.87 L1118.36,148.37 L1120.34,147.88 L1122.32,147.39 L1124.29,146.90 L1126.27,146.41 L1128.24,145.92 L1130.22,145.42 L1132.19,144.92 L1134.17,144.41 L1136.14,143.89 L1138.12,143.36 L1140.09,142.81 L1142.07,142.24 L1144.04,141.67 L1146.02,141.08 L1147.99,140.49 L1149.97,139.88 L1151.94,139.27 L1153.92,138.65 L1155.89,138.03 L1157.87,137.40 L1159.85,136.77 L1161.82,136.14 L1163.80,135.50 L1165.77,134.87 L1167.75,134.24 L1169.72,133.62 L1171.70,132.99 L1173.67,132.38 L1175.65,131.76 L1177.62,131.15 L1179.60,130.55 L1181.57,129.95 L1183.55,129.36 L1185.52,128.77 L1187.50,128.19 L1189.47,127.62 L1191.45,127.05 L1193.42,126.49 L1195.40,125.94 L1197.37,125.40 L1199.35,124.86 L1201.33,124.34 L1203.30,123.82 L1205.28,123.30 L1207.25,122.80 L1209.23,122.30 L1211.20,121.81 L1213.18,121.33 L1215.15,120.86 L1217.13,120.39 L1219.10,119.93 L1221.08,119.47 L1223.05,119.03 L1225.03,118.59 L1227.00,118.15 L1228.98,117.73 L1230.95,117.30 L1232.93,116.89 L1234.90,116.48 L1236.88,116.07 L1238.86,115.67 L1240.83,115.27 L1242.81,114.87 L1244.78,114.47 L1246.76,114.08 L1248.73,113.68 L1250.71,113.29 L1252.68,112.89 L1254.66,112.49 L1256.63,112.09 L1258.61,111.69 L1260.58,111.28 L1262.56,110.87 L1264.53,110.46 L1266.51,110.04 L1268.48,109.63 L1270.46,109.21 L1272.43,108.79 L1274.41,108.37 L1276.38,107.96 L1278.36,107.55 L1280.34,107.14 L1282.31,106.74 L1284.29,106.34 L1286.26,105.95 L1288.24,105.57 L1290.21,105.20 L1292.19,104.84 L1294.16,104.50 L1296.14,104.15 L1298.11,103.82 L1300.09,103.50 L1302.06,103.18 L1304.04,102.87 L1306.01,102.56 L1307.99,102.26 L1309.96,101.96 L1311.94,101.67 L1313.91,101.38 L1315.89,101.09 L1317.87,100.80 L1319.84,100.52 L1321.82,100.23 L1323.79,99.95 L1325.77,99.66 L1327.74,99.38 L1329.72,99.10 L1331.69,98.82 L1333.67,98.55 L1335.64,98.28 L1337.62,98.02 L1339.59,97.77 L1341.57,97.52 L1343.54,97.29 L1345.52,97.06 L1347.49,96.84 L1349.47,96.64 L1351.44,96.44 L1353.42,96.25 L1355.39,96.08 L1357.37,95.91 L1359.35,95.75 L1361.32,95.59 L1363.30,95.44 L1365.27,95.30 L1367.25,95.17 L1369.22,95.04 L1371.20,94.91 L1373.17,94.79 L1375.15,94.67 L1377.12,94.56 L1379.10,94.44 L1381.07,94.33 L1383.05,94.23 L1385.02,94.12 L1387.00,94.01 L1388.97,93.91 L1390.95,93.81 L1392.92,93.70 L1394.90,93.60" stroke="#838383" stroke-width="4.3" stroke-dasharray="14.1 8.37" stroke-dashoffset="18.14" stroke-linecap="round" fill="none"/>
<path d="M804.30,519.51 L806.28,517.51 L808.25,515.52 L810.23,513.52 L812.20,511.52 L814.18,509.51 L816.15,507.49 L818.13,505.46 L820.10,503.42 L822.08,501.38 L824.05,499.31 L826.03,497.23 L828.00,495.14 L829.98,493.03 L831.95,490.91 L833.93,488.80 L835.90,486.68 L837.88,484.56 L839.85,482.46 L841.83,480.36 L843.81,478.28 L845.78,476.22 L847.76,474.16 L849.73,472.12 L851.71,470.08 L853.68,468.05 L855.66,466.03 L857.63,464.01 L859.61,461.99 L861.58,459.98 L863.56,457.96 L865.53,455.94 L867.51,453.92 L869.48,451.89 L871.46,449.85 L873.43,447.81 L875.41,445.75 L877.38,443.68 L879.36,441.60 L881.33,439.51 L883.31,437.42 L885.29,435.32 L887.26,433.22 L889.24,431.13 L891.21,429.05 L893.19,426.98 L895.16,424.93 L897.14,422.89 L899.11,420.88 L901.09,418.90 L903.06,416.94 L905.04,415.02 L907.01,413.13 L908.99,411.28 L910.96,409.45 L912.94,407.65 L914.91,405.87 L916.89,404.11 L918.86,402.37 L920.84,400.65 L922.82,398.94 L924.79,397.24 L926.77,395.55 L928.74,393.86 L930.72,392.18 L932.69,390.49 L934.67,388.80 L936.64,387.11 L938.62,385.42 L940.59,383.72 L942.57,382.02 L944.54,380.31 L946.52,378.60 L948.49,376.89 L950.47,375.18 L952.44,373.46 L954.42,371.74 L956.39,370.02 L958.37,368.30 L960.34,366.58 L962.32,364.85 L964.30,363.13 L966.27,361.40 L968.25,359.68 L970.22,357.95 L972.20,356.22 L974.17,354.49 L976.15,352.76 L978.12,351.03 L980.10,349.30 L982.07,347.57 L984.05,345.83 L986.02,344.10 L988.00,342.36 L989.97,340.62 L991.95,338.88 L993.92,337.13 L995.90,335.39 L997.87,333.64 L999.85,331.89 L1001.83,330.13 L1003.80,328.37 L1005.78,326.60 L1007.75,324.83 L1009.73,323.06 L1011.70,321.28 L1013.68,319.49 L1015.65,317.70 L1017.63,315.90 L1019.60,314.10 L1021.58,312.28 L1023.55,310.46 L1025.53,308.64 L1027.50,306.80 L1029.48,304.96 L1031.45,303.11 L1033.43,301.25 L1035.40,299.38 L1037.38,297.50 L1039.35,295.61 L1041.33,293.71 L1043.31,291.80 L1045.28,289.89 L1047.26,287.97 L1049.23,286.05 L1051.21,284.13 L1053.18,282.21 L1055.16,280.29 L1057.13,278.39 L1059.11,276.49 L1061.08,274.60 L1063.06,272.73 L1065.03,270.87 L1067.01,269.03 L1068.98,267.21 L1070.96,265.41 L1072.93,263.64 L1074.91,261.89 L1076.88,260.17 L1078.86,258.48 L1080.84,256.83 L1082.81,255.21 L1084.79,253.62 L1086.76,252.05 L1088.74,250.50 L1090.71,248.97 L1092.69,247.44 L1094.66,245.92 L1096.64,244.41 L1098.61,242.88 L1100.59,241.36 L1102.56,239.81 L1104.54,238.26 L1106.51,236.68 L1108.49,235.10 L1110.46,233.50 L1112.44,231.90 L1114.41,230.29 L1116.39,228.68 L1118.36,227.07 L1120.34,225.46 L1122.32,223.86 L1124.29,222.27 L1126.27,220.69 L1128.24,219.13 L1130.22,217.58 L1132.19,216.05 L1134.17,214.54 L1136.14,213.05 L1138.12,211.58 L1140.09,210.13 L1142.07,208.70 L1144.04,207.28 L1146.02,205.88 L1147.99,204.50 L1149.97,203.13 L1151.94,201.78 L1153.92,200.44 L1155.89,199.12 L1157.87,197.81 L1159.85,196.51 L1161.82,195.22 L1163.80,193.94 L1165.77,192.65 L1167.75,191.34 L1169.72,190.03 L1171.70,188.69 L1173.67,187.32 L1175.65,185.92 L1177.62,184.47 L1179.60,182.99 L1181.57,181.49 L1183.55,179.96 L1185.52,178.42 L1187.50,176.88 L1189.47,175.34 L1191.45,173.82 L1193.42,172.32 L1195.40,170.85 L1197.37,169.41 L1199.35,168.01 L1201.33,166.63 L1203.30,165.28 L1205.28,163.95 L1207.25,162.65 L1209.23,161.37 L1211.20,160.12 L1213.18,158.88 L1215.15,157.66 L1217.13,156.46 L1219.10,155.28 L1221.08,154.11 L1223.05,152.95 L1225.03,151.80 L1227.00,150.67 L1228.98,149.54 L1230.95,148.42 L1232.93,147.30 L1234.90,146.19 L1236.88,145.09 L1238.86,144.00 L1240.83,142.91 L1242.81,141.83 L1244.78,140.77 L1246.76,139.71 L1248.73,138.66 L1250.71,137.63 L1252.68,136.60 L1254.66,135.59 L1256.63,134.60 L1258.61,133.62 L1260.58,132.65 L1262.56,131.70 L1264.53,130.76 L1266.51,129.84 L1268.48,128.93 L1270.46,128.04 L1272.43,127.16 L1274.41,126.30 L1276.38,125.45 L1278.36,124.61 L1280.34,123.78 L1282.31,122.97 L1284.29,122.16 L1286.26,121.37 L1288.24,120.58 L1290.21,119.81 L1292.19,119.04 L1294.16,118.29 L1296.14,117.54 L1298.11,116.80 L1300.09,116.06 L1302.06,115.34 L1304.04,114.62 L1306.01,113.90 L1307.99,113.19 L1309.96,112.49 L1311.94,111.79 L1313.91,111.10 L1315.89,110.41 L1317.87,109.73 L1319.84,109.05 L1321.82,108.37 L1323.79,107.69 L1325.77,107.03 L1327.74,106.37 L1329.72,105.72 L1331.69,105.08 L1333.67,104.46 L1335.64,103.86 L1337.62,103.27 L1339.59,102.70 L1341.57,102.15 L1343.54,101.63 L1345.52,101.13 L1347.49,100.66 L1349.47,100.21 L1351.44,99.79 L1353.42,99.40 L1355.39,99.03 L1357.37,98.68 L1359.35,98.36 L1361.32,98.07 L1363.30,97.79 L1365.27,97.53 L1367.25,97.30 L1369.22,97.08 L1371.20,96.89 L1373.17,96.71 L1375.15,96.55 L1377.12,96.40 L1379.10,96.26 L1381.07,96.14 L1383.05,96.03 L1385.02,95.93 L1387.00,95.83 L1388.97,95.74 L1390.95,95.66 L1392.92,95.57 L1394.90,95.49" stroke="#838383" stroke-width="4.3" stroke-dasharray="14.1 8.37" stroke-dashoffset="11.67" stroke-linecap="round" fill="none"/>
<circle cx="833.83" cy="262.90" r="8.4" fill="#990000" stroke="#000" stroke-width="4.2"/>
<circle cx="863.36" cy="254.50" r="8.4" fill="#990000" stroke="#000" stroke-width="4.2"/>
<circle cx="892.89" cy="244.10" r="8.4" fill="#990000" stroke="#000" stroke-width="4.2"/>
<circle cx="922.42" cy="231.00" r="8.4" fill="#990000" stroke="#000" stroke-width="4.2"/>
<circle cx="951.95" cy="221.00" r="8.4" fill="#990000" stroke="#000" stroke-width="4.2"/>
<circle cx="981.48" cy="211.40" r="8.4" fill="#990000" stroke="#000" stroke-width="4.2"/>
<circle cx="1011.01" cy="199.30" r="8.4" fill="#990000" stroke="#000" stroke-width="4.2"/>
<circle cx="1040.54" cy="188.00" r="8.4" fill="#990000" stroke="#000" stroke-width="4.2"/>
<circle cx="1070.07" cy="175.60" r="8.4" fill="#990000" stroke="#000" stroke-width="4.2"/>
<circle cx="1099.60" cy="161.70" r="8.4" fill="#990000" stroke="#000" stroke-width="4.2"/>
<circle cx="1129.13" cy="148.90" r="8.4" fill="#990000" stroke="#000" stroke-width="4.2"/>
<circle cx="1158.66" cy="139.90" r="8.4" fill="#990000" stroke="#000" stroke-width="4.2"/>
<circle cx="1188.19" cy="127.80" r="8.4" fill="#990000" stroke="#000" stroke-width="4.2"/>
<circle cx="1217.72" cy="120.30" r="8.4" fill="#990000" stroke="#000" stroke-width="4.2"/>
<circle cx="1247.25" cy="112.50" r="8.4" fill="#990000" stroke="#000" stroke-width="4.2"/>
<circle cx="1276.78" cy="105.50" r="8.4" fill="#990000" stroke="#000" stroke-width="4.2"/>
<circle cx="1306.31" cy="98.40" r="8.4" fill="#990000" stroke="#000" stroke-width="4.2"/>
<circle cx="1335.84" cy="97.50" r="8.4" fill="#990000" stroke="#000" stroke-width="4.2"/>
<circle cx="1365.37" cy="93.70" r="8.4" fill="#990000" stroke="#000" stroke-width="4.2"/>
<rect x="825.38" y="89.45" width="16.9" height="16.9" fill="#990000" stroke="#000" stroke-width="4.1"/>
<rect x="854.91" y="89.45" width="16.9" height="16.9" fill="#990000" stroke="#000" stroke-width="4.1"/>
<rect x="884.44" y="89.65" width="16.9" height="16.9" fill="#990000" stroke="#000" stroke-width="4.1"/>
<rect x="913.97" y="89.65" width="16.9" height="16.9" fill="#990000" stroke="#000" stroke-width="4.1"/>
<rect x="943.50" y="89.65" width="16.9" height="16.9" fill="#990000" stroke="#000" stroke-width="4.1"/>
<rect x="973.03" y="89.85" width="16.9" height="16.9" fill="#990000" stroke="#000" stroke-width="4.1"/>
<rect x="1002.56" y="90.05" width="16.9" height="16.9" fill="#990000" stroke="#000" stroke-width="4.1"/>
<rect x="1032.09" y="90.55" width="16.9" height="16.9" fill="#990000" stroke="#000" stroke-width="4.1"/>
<rect x="1061.62" y="91.25" width="16.9" height="16.9" fill="#990000" stroke="#000" stroke-width="4.1"/>
<rect x="1091.15" y="92.35" width="16.9" height="16.9" fill="#990000" stroke="#000" stroke-width="4.1"/>
<rect x="1120.68" y="93.95" width="16.9" height="16.9" fill="#990000" stroke="#000" stroke-width="4.1"/>
<rect x="1150.21" y="94.25" width="16.9" height="16.9" fill="#990000" stroke="#000" stroke-width="4.1"/>
<rect x="1179.74" y="95.25" width="16.9" height="16.9" fill="#990000" stroke="#000" stroke-width="4.1"/>
<rect x="1209.27" y="94.65" width="16.9" height="16.9" fill="#990000" stroke="#000" stroke-width="4.1"/>
<rect x="1238.80" y="93.75" width="16.9" height="16.9" fill="#990000" stroke="#000" stroke-width="4.1"/>
<rect x="1268.33" y="92.45" width="16.9" height="16.9" fill="#990000" stroke="#000" stroke-width="4.1"/>
<rect x="1297.86" y="92.85" width="16.9" height="16.9" fill="#990000" stroke="#000" stroke-width="4.1"/>
<rect x="1327.39" y="89.25" width="16.9" height="16.9" fill="#990000" stroke="#000" stroke-width="4.1"/>
<rect x="1356.92" y="90.75" width="16.9" height="16.9" fill="#990000" stroke="#000" stroke-width="4.1"/>
<circle cx="833.83" cy="444.00" r="8.4" fill="#4682b4" stroke="#000" stroke-width="4.2"/>
<circle cx="863.36" cy="430.50" r="8.4" fill="#4682b4" stroke="#000" stroke-width="4.2"/>
<circle cx="892.89" cy="419.40" r="8.4" fill="#4682b4" stroke="#000" stroke-width="4.2"/>
<circle cx="922.42" cy="400.50" r="8.4" fill="#4682b4" stroke="#000" stroke-width="4.2"/>
<circle cx="951.95" cy="376.40" r="8.4" fill="#4682b4" stroke="#000" stroke-width="4.2"/>
<circle cx="981.48" cy="351.50" r="8.4" fill="#4682b4" stroke="#000" stroke-width="4.2"/>
<circle cx="1011.01" cy="332.60" r="8.4" fill="#4682b4" stroke="#000" stroke-width="4.2"/>
<circle cx="1040.54" cy="308.30" r="8.4" fill="#4682b4" stroke="#000" stroke-width="4.2"/>
<circle cx="1070.07" cy="280.20" r="8.4" fill="#4682b4" stroke="#000" stroke-width="4.2"/>
<circle cx="1099.60" cy="255.10" r="8.4" fill="#4682b4" stroke="#000" stroke-width="4.2"/>
<circle cx="1129.13" cy="230.50" r="8.4" fill="#4682b4" stroke="#000" stroke-width="4.2"/>
<circle cx="1158.66" cy="207.50" r="8.4" fill="#4682b4" stroke="#000" stroke-width="4.2"/>
<circle cx="1188.19" cy="183.00" r="8.4" fill="#4682b4" stroke="#000" stroke-width="4.2"/>
<circle cx="1217.72" cy="163.90" r="8.4" fill="#4682b4" stroke="#000" stroke-width="4.2"/>
<circle cx="1247.25" cy="143.20" r="8.4" fill="#4682b4" stroke="#000" stroke-width="4.2"/>
<circle cx="1276.78" cy="128.30" r="8.4" fill="#4682b4" stroke="#000" stroke-width="4.2"/>
<circle cx="1306.31" cy="113.00" r="8.4" fill="#4682b4" stroke="#000" stroke-width="4.2"/>
<circle cx="1335.84" cy="103.00" r="8.4" fill="#4682b4" stroke="#000" stroke-width="4.2"/>
<circle cx="1365.37" cy="95.60" r="8.4" fill="#4682b4" stroke="#000" stroke-width="4.2"/>
<rect x="825.38" y="116.95" width="16.9" height="16.9" fill="#4682b4" stroke="#000" stroke-width="4.1"/>
<rect x="854.91" y="116.95" width="16.9" height="16.9" fill="#4682b4" stroke="#000" stroke-width="4.1"/>
<rect x="884.44" y="116.95" width="16.9" height="16.9" fill="#4682b4" stroke="#000" stroke-width="4.1"/>
<rect x="913.97" y="117.15" width="16.9" height="16.9" fill="#4682b4" stroke="#000" stroke-width="4.1"/>
<rect x="943.50" y="117.15" width="16.9" height="16.9" fill="#4682b4" stroke="#000" stroke-width="4.1"/>
<rect x="973.03" y="117.15" width="16.9" height="16.9" fill="#4682b4" stroke="#000" stroke-width="4.1"/>
<rect x="1002.56" y="117.55" width="16.9" height="16.9" fill="#4682b4" stroke="#000" stroke-width="4.1"/>
<rect x="1032.09" y="118.35" width="16.9" height="16.9" fill="#4682b4" stroke="#000" stroke-width="4.1"/>
<rect x="1061.62" y="118.55" width="16.9" height="16.9" fill="#4682b4" stroke="#000" stroke-width="4.1"/>
<rect x="1091.15" y="119.55" width="16.9" height="16.9" fill="#4682b4" stroke="#000" stroke-width="4.1"/>
<rect x="1120.68" y="120.05" width="16.9" height="16.9" fill="#4682b4" stroke="#000" stroke-width="4.1"/>
<rect x="1150.21" y="120.15" width="16.9" height="16.9" fill="#4682b4" stroke="#000" stroke-width="4.1"/>
<rect x="1179.74" y="119.95" width="16.9" height="16.9" fill="#4682b4" stroke="#000" stroke-width="4.1"/>
<rect x="1209.27" y="118.15" width="16.9" height="16.9" fill="#4682b4" stroke="#000" stroke-width="4.1"/>
<rect x="1238.80" y="117.15" width="16.9" height="16.9" fill="#4682b4" stroke="#000" stroke-width="4.1"/>
<rect x="1268.33" y="113.55" width="16.9" height="16.9" fill="#4682b4" stroke="#000" stroke-width="4.1"/>
<rect x="1297.86" y="113.65" width="16.9" height="16.9" fill="#4682b4" stroke="#000" stroke-width="4.1"/>
<rect x="1327.39" y="110.45" width="16.9" height="16.9" fill="#4682b4" stroke="#000" stroke-width="4.1"/>
<rect x="1356.92" y="110.75" width="16.9" height="16.9" fill="#4682b4" stroke="#000" stroke-width="4.1"/>
<rect x="804.3" y="17.3" width="590.60" height="586.80" fill="none" stroke="#000" stroke-width="3.7"/>
<path d="M804.30,2.50V17.3M804.30,604.1V618.70" stroke="#000" stroke-width="3.7"/>
<path d="M833.83,8.80V17.3M833.83,604.1V612.40" stroke="#000" stroke-width="2.6"/>
<path d="M863.36,8.80V17.3M863.36,604.1V612.40" stroke="#000" stroke-width="2.6"/>
<path d="M892.89,8.80V17.3M892.89,604.1V612.40" stroke="#000" stroke-width="2.6"/>
<path d="M922.42,8.80V17.3M922.42,604.1V612.40" stroke="#000" stroke-width="2.6"/>
<path d="M951.95,2.50V17.3M951.95,604.1V618.70" stroke="#000" stroke-width="3.7"/>
<path d="M981.48,8.80V17.3M981.48,604.1V612.40" stroke="#000" stroke-width="2.6"/>
<path d="M1011.01,8.80V17.3M1011.01,604.1V612.40" stroke="#000" stroke-width="2.6"/>
<path d="M1040.54,8.80V17.3M1040.54,604.1V612.40" stroke="#000" stroke-width="2.6"/>
<path d="M1070.07,8.80V17.3M1070.07,604.1V612.40" stroke="#000" stroke-width="2.6"/>
<path d="M1099.60,2.50V17.3M1099.60,604.1V618.70" stroke="#000" stroke-width="3.7"/>
<path d="M1129.13,8.80V17.3M1129.13,604.1V612.40" stroke="#000" stroke-width="2.6"/>
<path d="M1158.66,8.80V17.3M1158.66,604.1V612.40" stroke="#000" stroke-width="2.6"/>
<path d="M1188.19,8.80V17.3M1188.19,604.1V612.40" stroke="#000" stroke-width="2.6"/>
<path d="M1217.72,8.80V17.3M1217.72,604.1V612.40" stroke="#000" stroke-width="2.6"/>
<path d="M1247.25,2.50V17.3M1247.25,604.1V618.70" stroke="#000" stroke-width="3.7"/>
<path d="M1276.78,8.80V17.3M1276.78,604.1V612.40" stroke="#000" stroke-width="2.6"/>
<path d="M1306.31,8.80V17.3M1306.31,604.1V612.40" stroke="#000" stroke-width="2.6"/>
<path d="M1335.84,8.80V17.3M1335.84,604.1V612.40" stroke="#000" stroke-width="2.6"/>
<path d="M1365.37,8.80V17.3M1365.37,604.1V612.40" stroke="#000" stroke-width="2.6"/>
<path d="M1394.90,2.50V17.3M1394.90,604.1V618.70" stroke="#000" stroke-width="3.7"/>
<path d="M789.40,604.09H804.3M1394.9,604.09H1409.90" stroke="#000" stroke-width="3.7"/>
<path d="M789.40,482.32H804.3M1394.9,482.32H1409.90" stroke="#000" stroke-width="3.7"/>
<path d="M789.40,387.87H804.3M1394.9,387.87H1409.90" stroke="#000" stroke-width="3.7"/>
<path d="M789.40,310.69H804.3M1394.9,310.69H1409.90" stroke="#000" stroke-width="3.7"/>
<path d="M789.40,245.45H804.3M1394.9,245.45H1409.90" stroke="#000" stroke-width="3.7"/>
<path d="M789.40,188.92H804.3M1394.9,188.92H1409.90" stroke="#000" stroke-width="3.7"/>
<path d="M789.40,139.07H804.3M1394.9,139.07H1409.90" stroke="#000" stroke-width="3.7"/>
<path d="M789.40,94.47H804.3M1394.9,94.47H1409.90" stroke="#000" stroke-width="3.7"/>
<path d="M789.40,54.13H804.3M1394.9,54.13H1409.90" stroke="#000" stroke-width="3.7"/>
<path d="M789.40,17.30H804.3M1394.9,17.30H1409.90" stroke="#000" stroke-width="3.7"/>
<text x="803.40" y="659.10" font-size="35" text-anchor="middle" font-weight="normal" letter-spacing="1.5" fill="#000" >0.0</text>
<text x="951.05" y="659.10" font-size="35" text-anchor="middle" font-weight="normal" letter-spacing="1.5" fill="#000" >0.5</text>
<path d="M1085.55,635.00 V659.80 H1081.95 V641.40 C1080.35,642.50 1077.75,643.30 1075.75,643.90 V640.90 C1078.75,639.90 1081.55,637.80 1082.45,635.00 Z" fill="#000"/>
<text x="1093.82 1104.95" y="659.10" font-size="35" >.0</text>
<path d="M1233.20,635.00 V659.80 H1229.60 V641.40 C1228.00,642.50 1225.40,643.30 1223.40,643.90 V640.90 C1226.40,639.90 1229.20,637.80 1230.10,635.00 Z" fill="#000"/>
<text x="1241.47 1252.56" y="659.10" font-size="35" >.5</text>
<text x="1394.00" y="659.10" font-size="35" text-anchor="middle" font-weight="normal" letter-spacing="1.5" fill="#000" >2.0</text>
<path d="M766.30,82.90 V107.70 H762.70 V89.30 C761.10,90.40 758.50,91.20 756.50,91.80 V88.80 C759.50,87.80 762.30,85.70 763.20,82.90 Z" fill="#000"/>
<text x="773.30" y="617.20" font-size="35" text-anchor="end" font-weight="normal" letter-spacing="1.5" fill="#000" >0.3</text>
<text transform="translate(754.40,0) rotate(-90)" x="-363.39 -342.44 -333.57 -311.12 -290.99 -269.36" y="0" font-size="35">Signal</text>
<text x="831.13 857.76 866.90 878.80 890.73 912.73 929.61 950.98 964.55 977.47 990.23 1010.75 1023.23 1041.11 1061.78 1094.84 1116.24 1125.41 1145.00 1156.93 1178.66 1188.43 1205.87 1218.61 1239.78 1261.21 1279.61 1300.00 1311.40 1325.00 1333.38" y="709.70" font-size="35" >Diffuser-to-sample distance / m</text>
<rect x="802.20" y="15.50" width="62.8" height="61.40" fill="#000"/>
<text x="0" y="0" font-size="51" text-anchor="middle" font-weight="bold" fill="#fff" transform="translate(833.8,64.7) scale(0.95,1)">B</text>
<rect x="99.5" y="364.7" width="222.4" height="222.2" rx="6" ry="6" fill="#fff" stroke="#000" stroke-width="4.7"/>
<path d="M146.40,374.50V408.50" stroke="#990000" stroke-width="4.4" fill="none"/>
<path d="M137.75,374.50h17.3M137.75,408.50h17.3" stroke="#990000" stroke-width="4.3" fill="none"/>
<circle cx="146.40" cy="391.30" r="8.4" fill="#990000" stroke="#000" stroke-width="4.2"/>
<path d="M146.40,425.80V459.60" stroke="#990000" stroke-width="4.4" fill="none"/>
<path d="M137.75,425.80h17.3M137.75,459.60h17.3" stroke="#990000" stroke-width="4.3" fill="none"/>
<rect x="137.95" y="434.25" width="16.9" height="16.9" fill="#990000" stroke="#000" stroke-width="4.1"/>
<path d="M146.40,476.70V510.70" stroke="#4682b4" stroke-width="4.4" fill="none"/>
<path d="M137.75,476.70h17.3M137.75,510.70h17.3" stroke="#4682b4" stroke-width="4.3" fill="none"/>
<circle cx="146.40" cy="493.60" r="8.4" fill="#4682b4" stroke="#000" stroke-width="4.2"/>
<path d="M146.40,532.30V565.90" stroke="#4682b4" stroke-width="4.4" fill="none"/>
<path d="M137.75,532.30h17.3M137.75,565.90h17.3" stroke="#4682b4" stroke-width="4.3" fill="none"/>
<rect x="137.95" y="540.75" width="16.9" height="16.9" fill="#4682b4" stroke="#000" stroke-width="4.1"/>
<text x="206.85" y="402.40" font-size="34.8">D</text>
<text x="233.18 247.68 267.98 288.85" y="408.00" font-size="24.6">PMMA</text>
<text x="207.43" y="453.80" font-size="34.8">T</text>
<text x="228.08 242.58 262.88 283.75" y="458.90" font-size="24.6">PMMA</text>
<text x="206.85" y="505.50" font-size="34.8">D</text>
<text x="233.68 248.35 255.13" y="510.30" font-size="24.6">SiO</text>
<text x="273.80" y="514.60" font-size="17.8">2</text>
<text x="207.13" y="559.90" font-size="34.8">T</text>
<text x="228.38 243.05 249.83" y="566.00" font-size="24.6">SiO</text>
<text x="268.50" y="570.00" font-size="17.8">2</text>
</svg>
</body></html>
